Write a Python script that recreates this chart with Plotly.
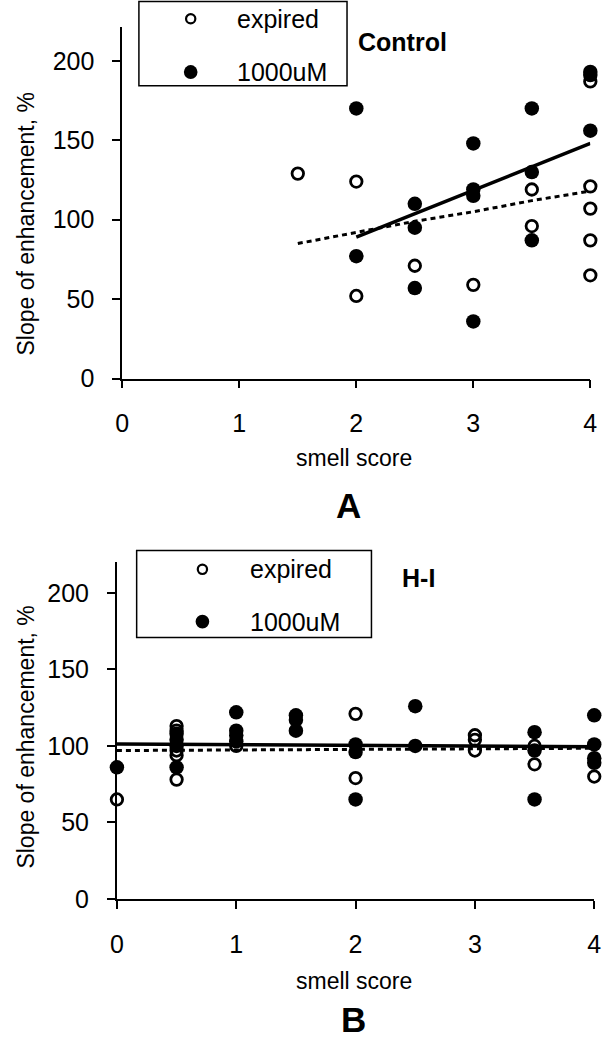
import plotly.graph_objects as go

W, H = 611, 1050

# ---------------- data ----------------
# Panel A (Control)
a_exp_x = [1.5, 2, 2, 2.5, 3, 3.5, 3.5, 4, 4, 4, 4, 4]
a_exp_y = [129, 124, 52, 71, 59, 119, 96, 187, 121, 107, 87, 65]
a_hi_x = [2, 2, 2.5, 2.5, 2.5, 3, 3, 3, 3, 3.5, 3.5, 3.5, 4, 4, 4]
a_hi_y = [170, 77, 110, 95, 57, 148, 119, 115, 36, 170, 130, 87, 193, 191, 156]
a_fit_hi_x = [2, 4]
a_fit_hi_y = [89, 148]
a_fit_exp_x = [1.5, 2, 2.5, 3, 3.5, 4]
a_fit_exp_y = [85, 92, 99, 105, 112, 118]

# Panel B (H-I)
b_exp_x = [0, 0.5, 0.5, 0.5, 0.5, 0.5, 1, 2, 2, 3, 3, 3, 3.5, 3.5, 4]
b_exp_y = [65, 113, 110, 97, 94, 78, 100, 121, 79, 107, 104, 97, 100, 88, 80]
b_hi_x = [0, 0.5, 0.5, 0.5, 0.5, 1, 1, 1, 1, 1.5, 1.5, 1.5, 2, 2, 2,
          2.5, 2.5, 3.5, 3.5, 3.5, 4, 4, 4, 4]
b_hi_y = [86, 108, 104, 100, 86, 122, 110, 107, 103, 120, 117, 110, 101, 96, 65,
          126, 100, 109, 97, 65, 120, 101, 92, 89]
b_fit_hi_x = [0, 4]
b_fit_hi_y = [101.3, 99.5]
b_fit_exp_x = [0, 4]
b_fit_exp_y = [97.0, 98.5]

x_ticks = [0, 1, 2, 3, 4]
y_ticks = [0, 50, 100, 150, 200]
legend_labels = ["expired", "1000uM"]
panel_titles = ["Control", "H-I"]
panel_letters = ["A", "B"]
x_title = "smell score"
y_title = "Slope of enhancement, %"

FONT = "Liberation Sans, Arial, sans-serif"
BLACK = "#000000"


def px(x):
    return x / W


def py(y):
    return 1 - y / H


fig = go.Figure()

panels = [
    dict(xa="x", ya="y", ex=a_exp_x, ey=a_exp_y, hx=a_hi_x, hy=a_hi_y,
         fhx=a_fit_hi_x, fhy=a_fit_hi_y, fex=a_fit_exp_x, fey=a_fit_exp_y),
    dict(xa="x2", ya="y2", ex=b_exp_x, ey=b_exp_y, hx=b_hi_x, hy=b_hi_y,
         fhx=b_fit_hi_x, fhy=b_fit_hi_y, fex=b_fit_exp_x, fey=b_fit_exp_y),
]

for p in panels:
    fig.add_trace(go.Scatter(x=p["ex"], y=p["ey"], mode="markers", xaxis=p["xa"], yaxis=p["ya"],
                             marker=dict(symbol="circle-open", size=11.5, color=BLACK,
                                         line=dict(width=2.8, color=BLACK)),
                             showlegend=False, cliponaxis=False))
    fig.add_trace(go.Scatter(x=p["hx"], y=p["hy"], mode="markers", xaxis=p["xa"], yaxis=p["ya"],
                             marker=dict(symbol="circle", size=14.5, color=BLACK),
                             showlegend=False, cliponaxis=False))
    fig.add_trace(go.Scatter(x=p["fex"], y=p["fey"], mode="lines", xaxis=p["xa"], yaxis=p["ya"],
                             line=dict(color=BLACK, width=3, dash="5px,4px"),
                             showlegend=False, cliponaxis=False))
    fig.add_trace(go.Scatter(x=p["fhx"], y=p["fhy"], mode="lines", xaxis=p["xa"], yaxis=p["ya"],
                             line=dict(color=BLACK, width=3.5),
                             showlegend=False, cliponaxis=False))

axis_common = dict(showgrid=False, zeroline=False, showline=True, linecolor=BLACK, linewidth=1.8,
                   ticks="outside", ticklen=8, tickwidth=1.8, tickcolor=BLACK,
                   tickfont=dict(family=FONT, size=25, color=BLACK), fixedrange=True)

fig.update_layout(
    width=W, height=H, margin=dict(l=0, r=0, t=0, b=0),
    paper_bgcolor="white", plot_bgcolor="rgba(0,0,0,0)",
    showlegend=False,
    xaxis=dict(domain=[px(118), px(597)], range=[0, 4], anchor="y",
               tickvals=x_ticks, ticklabelstandoff=14, **axis_common),
    yaxis=dict(domain=[py(383.7), py(27)], range=[0, 221.5], anchor="x",
               tickvals=y_ticks, ticklabelstandoff=13, **axis_common),
    xaxis2=dict(domain=[px(112.5), px(601)], range=[0, 4], anchor="y2",
                tickvals=x_ticks, ticklabelstandoff=14, **axis_common),
    yaxis2=dict(domain=[py(911), py(569.3)], range=[0, 220.5], anchor="x2",
                tickvals=y_ticks, ticklabelstandoff=13, **axis_common),
)

shapes = []
# legend boxes
boxes = [(135, 1.5, 348, 87), (132.7, 558, 373, 646)]
for (x0, y0, x1, y1) in boxes:
    shapes.append(dict(type="rect", xref="paper", yref="paper",
                       x0=px(x0), x1=px(x1), y0=py(y1), y1=py(y0),
                       line=dict(color=BLACK, width=1.5), fillcolor="rgba(0,0,0,0)"))


def circle(cx, cy, d, filled, lw=2.2):
    r = d / 2
    return dict(type="circle", xref="paper", yref="paper",
                x0=px(cx - r), x1=px(cx + r), y0=py(cy + r), y1=py(cy - r),
                line=dict(color=BLACK, width=0 if filled else lw),
                fillcolor=BLACK if filled else "rgba(0,0,0,0)")


# legend marker glyphs
for mx, (r1, r2) in [(188, (19, 73)), (200, (577, 630))]:
    shapes.append(circle(mx, r1, 9.5, False))
    shapes.append(circle(mx, r2, 14, True))

fig.update_layout(shapes=shapes)

ann = []
# legend texts
for (tx, rows) in [(233, (19, 73)), (247, (577, 630))]:
    for lab, ry in zip(legend_labels, rows):
        ann.append(dict(x=px(tx), y=py(ry), text=lab, xanchor="left", yanchor="middle",
                        font=dict(family=FONT, size=25, color=BLACK)))
# panel titles
ann.append(dict(x=px(357), y=py(43), text="<b>%s</b>" % panel_titles[0], xanchor="left",
                yanchor="middle", font=dict(family=FONT, size=25, color=BLACK)))
ann.append(dict(x=px(402), y=py(586), text="<b>%s</b>" % panel_titles[1], xanchor="left",
                yanchor="middle", font=dict(family=FONT, size=25, color=BLACK)))
# axis titles
for cx, cy in [(355, 464), (355, 994)]:
    ann.append(dict(x=px(cx), y=py(cy), text=x_title, xanchor="center", yanchor="middle",
                    font=dict(family=FONT, size=23, color=BLACK)))
for cy in [227, 747]:
    ann.append(dict(x=px(19), y=py(cy), text=y_title, textangle=-90, xanchor="center",
                    yanchor="middle", font=dict(family=FONT, size=23, color=BLACK)))
# panel letters
for lab, cx, cy in [(panel_letters[0], 350, 512), (panel_letters[1], 355, 1033)]:
    ann.append(dict(x=px(cx), y=py(cy), text="<b>%s</b>" % lab, xanchor="center",
                    yanchor="middle", font=dict(family=FONT, size=35, color=BLACK)))

for a in ann:
    a.update(xref="paper", yref="paper", showarrow=False)
fig.update_layout(annotations=ann)

# remove the default 8px page margin so the figure sits at the window's top-left corner
fig.write_html("out.html", config={"displayModeBar": False},
               post_script="document.body.style.margin='0px';")
